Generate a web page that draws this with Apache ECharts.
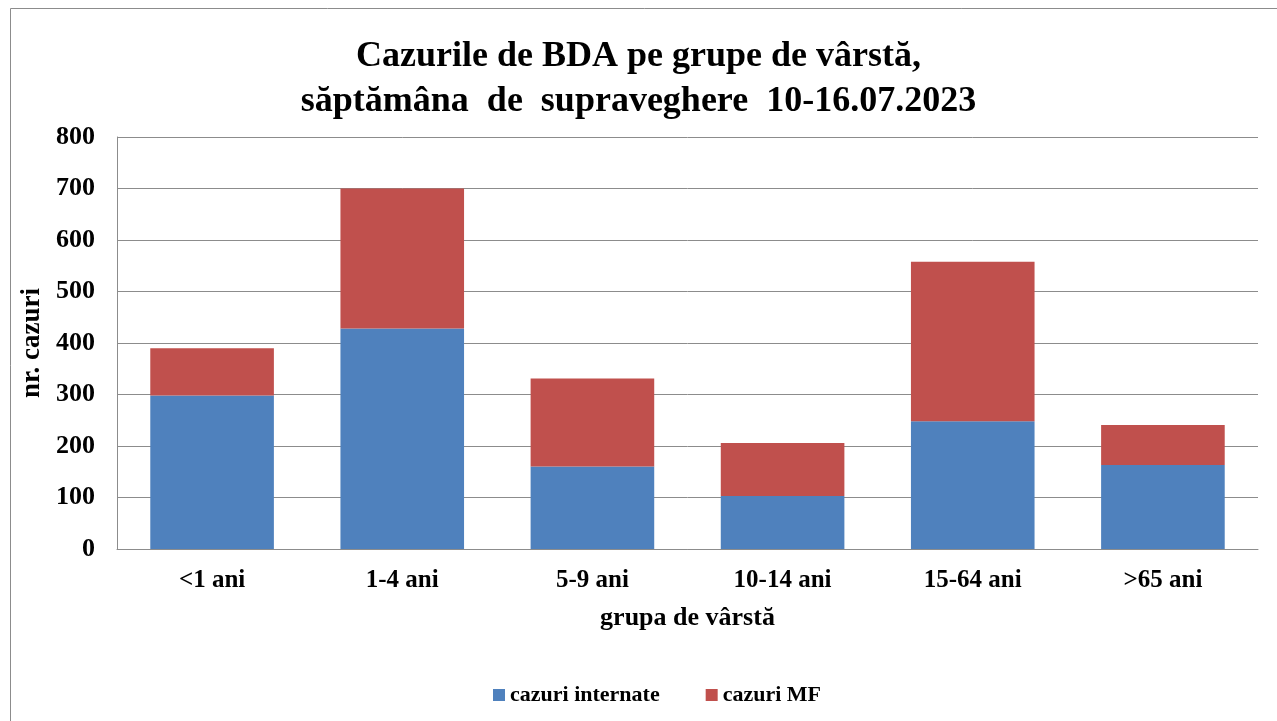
<!DOCTYPE html>
<html>
<head>
<meta charset="utf-8">
<script src="https://cdn.jsdelivr.net/npm/echarts@6/dist/echarts.min.js"></script>
<style>
  html, body { margin: 0; padding: 0; background: #fff; }
  #main { width: 1277px; height: 721px; }
</style>
</head>
<body>
<div id="main"></div>
<script>
// age groups
var categories = ['<1 ani', '1-4 ani', '5-9 ani', '10-14 ani', '15-64 ani', '>65 ani'];
// hospitalised cases
var cazuriInternate = [298, 428, 160, 103, 248, 163];
// family-doctor cases
var cazuriMF = [92, 272, 171, 103, 310, 78];

var font = '"Liberation Serif", "Times New Roman", serif';

var chart = echarts.init(document.getElementById('main'));

var option = {
  animation: false,
  backgroundColor: '#fff',
  textStyle: { fontFamily: font },
  title: {
    text: 'Cazurile de BDA pe grupe de vârstă,\nsăptămâna  de  supraveghere  10-16.07.2023',
    left: 'center',
    top: 29,
    textStyle: {
      fontFamily: font,
      fontSize: 36,
      fontWeight: 'bold',
      color: '#000',
      lineHeight: 45
    }
  },
  graphic: [{
    type: 'rect',
    shape: { x: 10.5, y: 8.5, width: 1290, height: 730 },
    style: { fill: 'none', stroke: '#8c8c8c', lineWidth: 1 },
    silent: true
  }],
  legend: {
    left: 488,
    top: 679,
    itemWidth: 12,
    itemHeight: 12,
    itemGap: 46,
    icon: 'rect',
    textStyle: { fontFamily: font, fontSize: 22, fontWeight: 'bold', color: '#000' },
    data: ['cazuri internate', 'cazuri MF']
  },
  grid: {
    left: 117,
    right: 19,
    top: 137,
    bottom: 172,
    containLabel: false
  },
  xAxis: {
    type: 'category',
    data: categories,
    name: 'grupa de vârstă',
    nameLocation: 'middle',
    nameGap: 56,
    nameTextStyle: { fontFamily: font, fontSize: 26, fontWeight: 'bold', color: '#000' },
    axisLine: { lineStyle: { color: '#8c8c8c', width: 1 } },
    axisTick: { show: false },
    axisLabel: { fontFamily: font, fontSize: 25, fontWeight: 'bold', color: '#000', margin: 19 }
  },
  yAxis: {
    type: 'value',
    min: 0,
    max: 800,
    interval: 100,
    name: 'nr. cazuri',
    nameLocation: 'middle',
    nameGap: 65,
    nameRotate: 90,
    nameTextStyle: { fontFamily: font, fontSize: 27, fontWeight: 'bold', color: '#000' },
    axisLine: { show: true, lineStyle: { color: '#8c8c8c', width: 1 } },
    axisTick: { show: false },
    axisLabel: { fontFamily: font, fontSize: 26, fontWeight: 'bold', color: '#000', margin: 22 },
    splitLine: { lineStyle: { color: '#8c8c8c', width: 1 } }
  },
  series: [
    {
      name: 'cazuri internate',
      type: 'bar',
      stack: 'total',
      barCategoryGap: '35%',
      itemStyle: { color: '#4F81BD' },
      data: cazuriInternate
    },
    {
      name: 'cazuri MF',
      type: 'bar',
      stack: 'total',
      barCategoryGap: '35%',
      itemStyle: { color: '#C0504D' },
      data: cazuriMF
    }
  ]
};

chart.setOption(option);
</script>
</body>
</html>
